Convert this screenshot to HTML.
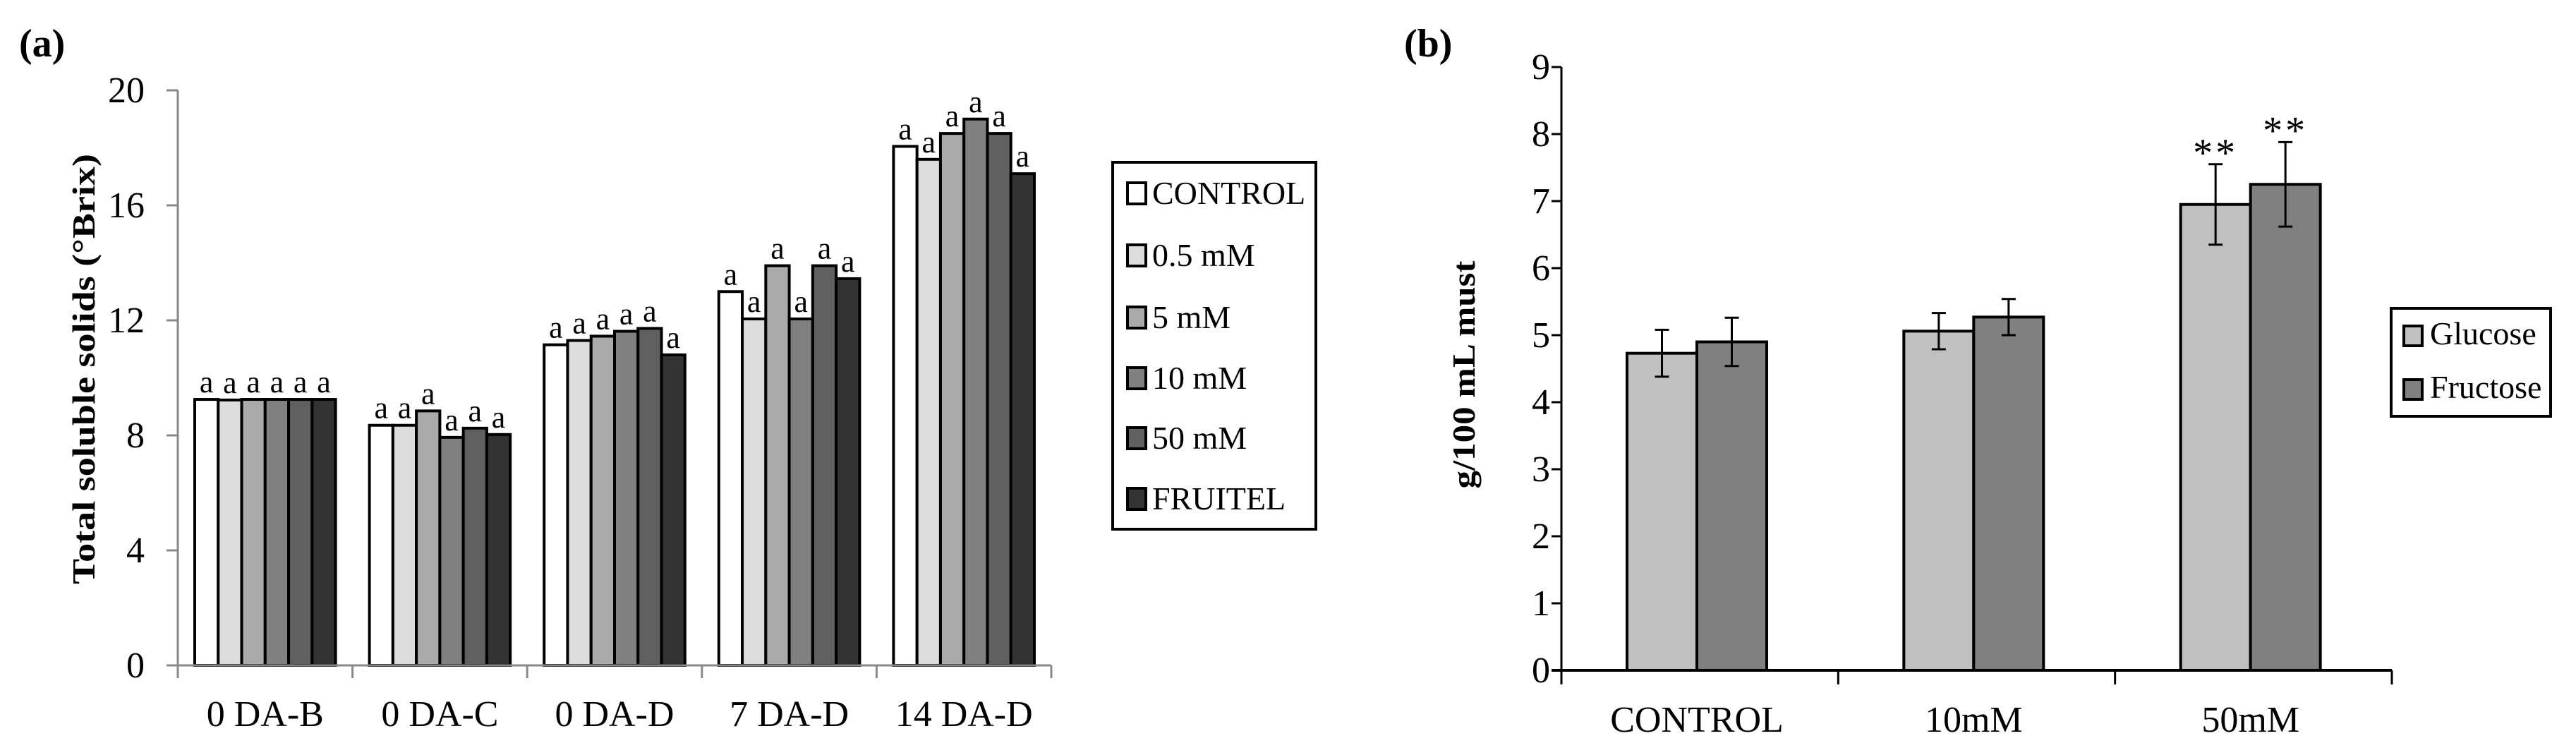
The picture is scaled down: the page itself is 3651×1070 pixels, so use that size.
<!DOCTYPE html>
<html><head><meta charset="utf-8">
<style>
html,body{margin:0;padding:0;background:#fff;}
svg{display:block;}
text{font-family:"Liberation Serif",serif;fill:#000;}
</style></head>
<body>
<svg id="fig" width="3651" height="1070" viewBox="0 0 3651 1070" xmlns="http://www.w3.org/2000/svg">
<g id="chartA"></g>
<g id="chartB"></g>
</svg>
<script>
// ---- Chart A data ----
const catsA = ["0 DA-B","0 DA-C","0 DA-D","7 DA-D","14 DA-D"];
const seriesNamesA = ["CONTROL","0.5 mM","5 mM","10 mM","50 mM","FRUITEL"];
const control = [9.25, 8.35, 11.15, 13.0, 18.05];
const mM05 = [9.23, 8.35, 11.3, 12.05, 17.6];
const mM5 = [9.25, 8.85, 11.45, 13.9, 18.5];
const mM10 = [9.25, 7.93, 11.62, 12.05, 19.0];
const mM50 = [9.25, 8.25, 11.72, 13.9, 18.5];
const fruitel = [9.25, 8.03, 10.8, 13.45, 17.1];
const ticksA = [0,4,8,12,16,20];
// ---- Chart B data ----
const catsB = ["CONTROL","10mM","50mM"];
const glucose = [4.73, 5.06, 6.95];
const fructose = [4.9, 5.27, 7.25];
const glucoseErr = [0.35, 0.27, 0.6];
const fructoseErr = [0.36, 0.27, 0.63];
const sigB = ["","","**"];
const ticksB = [0,1,2,3,4,5,6,7,8,9];

const NS="http://www.w3.org/2000/svg";
function mk(parent, tag, attrs, txt){
  const e=document.createElementNS(NS,tag);
  for(const k in attrs) e.setAttribute(k, attrs[k]);
  if(txt!==undefined) e.textContent=txt;
  parent.appendChild(e); return e;
}

// ===== Chart A =====
(function(){
  const g=document.getElementById('chartA');
  const x0=252, x1=1490, y0=943, yTop=128, ymax=20;
  const yA=v=>y0-(v/ymax)*(y0-yTop);
  const gw=(x1-x0)/catsA.length, pad=24, bw=(gw-2*pad)/6;
  const seriesA=[control,mM05,mM5,mM10,mM50,fruitel];
  const colors=["#ffffff","#dcdcdc","#aaaaaa","#808080","#606060","#333333"];
  let t=mk(g,'text',{x:27,y:80,'font-size':56,'font-weight':'bold'},'(a)');
  
  
  t=mk(g,'text',{x:0,y:0,'font-size':46,'font-weight':'bold','text-anchor':'middle',transform:'translate(134,523) rotate(-90)',textLength:610,lengthAdjust:'spacingAndGlyphs'},'Total soluble solids (°Brix)');
  
  
  ticksA.forEach(v=>{
    const y=yA(v);
    let l=mk(g,'line',{x1:236,x2:x0,y1:y,y2:y,stroke:'#888',"stroke-width":3});
    
    
    let tt=mk(g,'text',{x:205,y:y+17,'font-size':52,'text-anchor':'end'},String(v));
    
    
  });
  catsA.forEach((c,i)=>{
    const gx=x0+i*gw;
    seriesA.forEach((s,j)=>{
      const bx=gx+pad+j*bw, by=yA(s[i]);
      let r=mk(g,'rect',{x:bx,y:by,width:bw,height:y0-by,fill:colors[j],stroke:'#000','stroke-width':4});
      
      
      let a=mk(g,'text',{x:bx+bw/2,y:by-10,'font-size':44,'text-anchor':'middle'},'a');
      
      
    });
    let xl=mk(g,'text',{x:gx+gw/2,y:1029,'font-size':52,'text-anchor':'middle'},c);
    
    
  });
  for(let i=0;i<=catsA.length;i++){
    const x=x0+i*gw;
    let l=mk(g,'line',{x1:x,x2:x,y1:y0,y2:961,stroke:'#888','stroke-width':3});
    
    
  }
  let ax=mk(g,'line',{x1:x0,x2:x0,y1:yTop,y2:y0+18,stroke:'#888','stroke-width':3});
  
  
  ax=mk(g,'line',{x1:236,x2:x1,y1:y0,y2:y0,stroke:'#888','stroke-width':3});
  
  
  // legend
  const lg=mk(g,'g',{});
  
  
  mk(lg,'rect',{x:1577,y:230,width:288,height:520,fill:'#fff',stroke:'#000','stroke-width':4});
  const ly=[273,361,449,535,620,706];
  seriesNamesA.forEach((n,j)=>{
    const e=mk(lg,'g',{});
    
    
    mk(e,'rect',{x:1598,y:ly[j]-14,width:26,height:30,fill:colors[j],stroke:'#000','stroke-width':4});
    mk(e,'text',{x:1633,y:ly[j]+16,'font-size':46},n);
  });
})();

// ===== Chart B =====
(function(){
  const g=document.getElementById('chartB');
  const x0=2213, x1=3390, y0=950, ymax=9, yTop=95;
  const yB=v=>y0-(v/ymax)*(y0-yTop);
  const gw=(x1-x0)/catsB.length, off=93, bw=99;
  let t=mk(g,'text',{x:1990,y:80,'font-size':56,'font-weight':'bold'},'(b)');
  
  
  t=mk(g,'text',{x:0,y:0,'font-size':46,'font-weight':'bold','text-anchor':'middle',transform:'translate(2090,531) rotate(-90)',textLength:323,lengthAdjust:'spacingAndGlyphs'},'g/100 mL must');
  
  
  ticksB.forEach(v=>{
    const y=yB(v);
    let l=mk(g,'line',{x1:2199,x2:x0,y1:y,y2:y,stroke:'#000',"stroke-width":3});
    
    
    let tt=mk(g,'text',{x:2197,y:y+17,'font-size':52,'text-anchor':'end'},String(v));
    
    
  });
  const ser=[glucose,fructose], errs=[glucoseErr,fructoseErr], cols=["#c0c0c0","#808080"], names=["glucose","fructose"];
  catsB.forEach((c,i)=>{
    const gx=x0+i*gw;
    ser.forEach((s,j)=>{
      const bx=gx+off+j*bw, by=yB(s[i]);
      let r=mk(g,'rect',{x:bx,y:by,width:bw,height:y0-by,fill:cols[j],stroke:'#000','stroke-width':4});
      
      
      const cx=bx+bw/2, yh=yB(s[i]+errs[j][i]), yl=yB(s[i]-errs[j][i]);
      const eg=mk(g,'g',{stroke:'#000','stroke-width':3});
      
      
      mk(eg,'line',{x1:cx,x2:cx,y1:yh,y2:yl});
      mk(eg,'line',{x1:cx-10,x2:cx+10,y1:yh,y2:yh});
      mk(eg,'line',{x1:cx-10,x2:cx+10,y1:yl,y2:yl});
      if(sigB[i]){
        let st=mk(g,'text',{x:cx,y:yh+2,'font-size':56,'text-anchor':'middle','font-family':'"DejaVu Sans",sans-serif','letter-spacing':4},sigB[i]);
        
        
      }
    });
    let xl=mk(g,'text',{x:gx+off+bw,y:1037,'font-size':52,'text-anchor':'middle'},c);
    
    
  });
  for(let i=0;i<=catsB.length;i++){
    const x=x0+i*gw;
    let l=mk(g,'line',{x1:x,x2:x,y1:y0,y2:970,stroke:'#000','stroke-width':3});
    
    
  }
  let ax=mk(g,'line',{x1:x0,x2:x0,y1:yTop,y2:970,stroke:'#000','stroke-width':3});
  
  
  ax=mk(g,'line',{x1:2199,x2:x1,y1:y0,y2:y0,stroke:'#000','stroke-width':4});
  
  
  const lg=mk(g,'g',{});
  
  
  mk(lg,'rect',{x:3389,y:437,width:226,height:153,fill:'#fff',stroke:'#000','stroke-width':4});
  const ly=[476,552], ln=["Glucose","Fructose"];
  ln.forEach((n,j)=>{
    const e=mk(lg,'g',{});
    
    
    mk(e,'rect',{x:3407,y:ly[j]-14,width:26,height:28,fill:cols[j],stroke:'#000','stroke-width':4});
    mk(e,'text',{x:3444,y:ly[j]+12,'font-size':46},n);
  });
})();
</script>
</body></html>
